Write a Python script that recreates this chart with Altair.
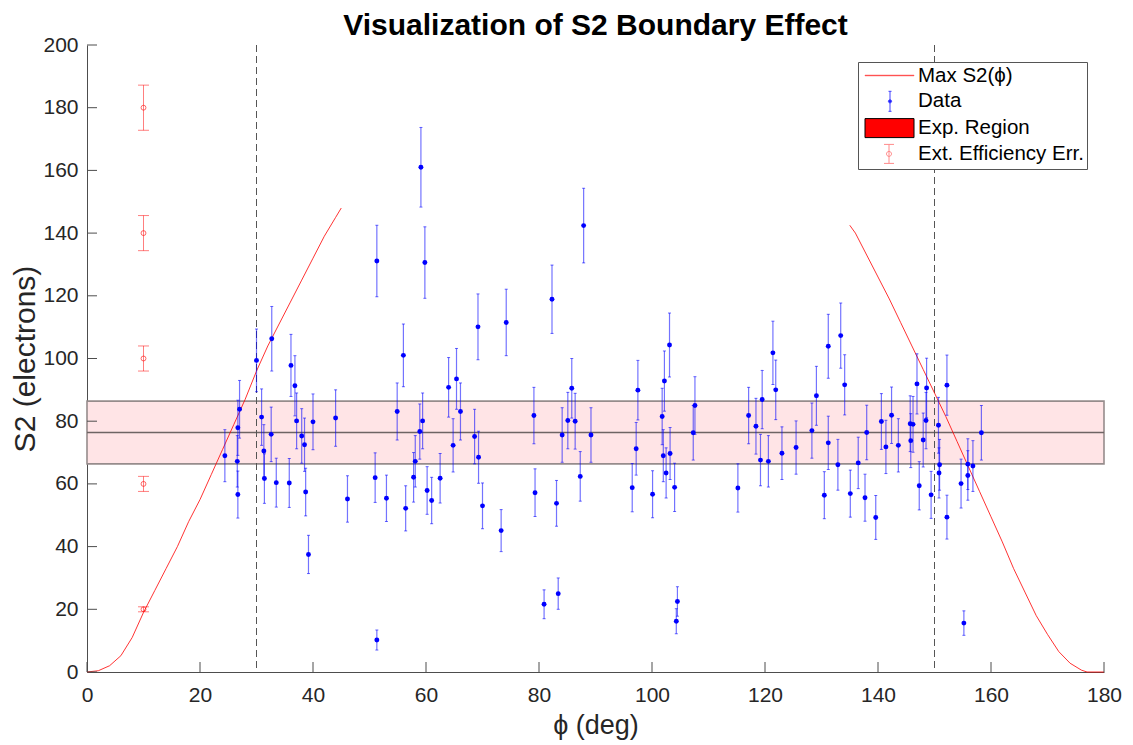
import altair as alt
import pandas as pd

# ---------------- data ----------------
PHI = [24.4, 26.6, 26.7, 26.7, 27.0, 30.0, 30.9, 31.3, 31.4, 32.6, 32.7, 33.5, 35.8, 36.1,
       36.8, 37.1, 38.0, 38.5, 38.7, 39.2, 40.0, 44.0, 46.1, 51.0, 51.3, 51.3, 53.0, 54.9,
       56.0, 56.4, 57.8, 58.1, 58.9, 59.1, 59.4, 59.8, 60.2, 61.0, 62.5, 64.0, 64.8, 65.4,
       66.1, 68.6, 69.2, 69.3, 70.0, 73.3, 74.2, 79.1, 79.3, 80.9, 82.3, 83.1, 83.4, 84.1,
       85.1, 85.8, 86.4, 87.3, 87.9, 89.2, 96.5, 97.2, 97.5, 100.1, 101.8, 102.0, 102.2,
       102.5, 103.1, 103.2, 104.0, 104.3, 104.5, 107.3, 107.6, 115.2, 117.1, 118.4, 119.2,
       119.5, 120.6, 121.4, 121.9, 123.0, 125.5, 128.3, 129.1, 130.5, 131.2, 131.2, 132.9,
       133.4, 134.1, 135.1, 136.5, 137.7, 138.0, 139.6, 140.6, 141.4, 142.4, 143.6, 145.7,
       145.8, 146.2, 146.9, 147.3, 148.0, 148.5, 148.6, 149.4, 150.7, 150.8, 150.9, 152.2,
       152.2, 154.7, 155.2, 155.9, 155.9, 156.8, 158.3]
S2 = [69.0, 67.2, 77.9, 56.6, 83.8, 99.4, 81.3, 70.5, 61.7, 75.8, 106.3, 60.4, 60.3, 97.8,
      91.3, 80.1, 75.3, 72.5, 57.4, 37.5, 79.8, 81.0, 55.2, 62.0, 10.2, 131.1, 55.4, 83.1,
      101.0, 52.2, 62.1, 67.2, 76.7, 161.0, 80.1, 130.6, 57.9, 54.7, 61.8, 90.8, 72.3, 93.5,
      83.1, 75.1, 110.1, 68.5, 53.0, 45.1, 111.5, 81.8, 57.2, 21.6, 118.9, 53.8, 25.0, 75.6,
      80.2, 90.5, 80.0, 62.4, 142.4, 75.6, 58.8, 71.2, 89.9, 56.7, 81.5, 69.0, 92.8,
      63.5, 104.3, 69.7, 58.9, 16.2, 22.5, 76.3, 85.0, 58.7, 81.8, 78.4, 67.6,
      86.9, 67.2, 101.8, 90.0, 69.8, 71.6, 77.0, 88.1, 56.4, 103.9, 73.1, 66.1,
      107.3, 91.6, 56.9, 66.7, 55.6, 76.4, 49.3, 79.9, 71.8, 81.9, 72.3, 79.2,
      73.8, 79.0, 91.9, 59.4, 74.0, 80.2, 90.6, 56.5, 78.7, 63.5, 66.1, 91.5,
      49.4, 60.1, 15.6, 66.3, 62.7, 65.7, 76.3]
S2_ERR = [8.3, 8.2, 8.8, 7.5, 9.2, 10.0, 9.0, 8.4, 7.9, 8.7, 10.3, 7.8, 7.8, 9.9,
          9.6, 8.9, 8.7, 8.5, 7.6, 6.1, 8.9, 9.0, 7.4, 7.9, 3.2, 11.4, 7.4, 9.1,
          10.0, 7.2, 7.9, 8.2, 8.8, 12.7, 8.9, 11.4, 7.6, 7.4, 7.9, 9.5, 8.5, 9.7,
          9.1, 8.7, 10.5, 8.3, 7.3, 6.7, 10.6, 9.0, 7.6, 4.6, 10.9, 7.3, 5.0, 8.7,
          9.0, 9.5, 8.9, 7.9, 11.9, 8.7, 7.7, 8.4, 9.5, 7.5, 9.0, 8.3, 9.6,
          8.0, 10.2, 8.3, 7.7, 4.0, 4.7, 8.7, 9.2, 7.7, 9.0, 8.9, 8.2,
          9.3, 8.2, 10.1, 9.5, 8.4, 8.5, 8.8, 9.4, 7.5, 10.2, 8.5, 8.1,
          10.4, 9.6, 7.5, 8.2, 7.5, 8.7, 7.0, 8.9, 8.5, 9.0, 8.5, 8.9,
          8.6, 8.9, 9.6, 7.7, 8.6, 9.0, 9.5, 7.5, 8.9, 8.0, 8.1, 9.6,
          7.0, 7.8, 3.9, 8.1, 7.9, 8.1, 8.7]

EFF_PHI = [10, 10, 10, 10, 10]
EFF_S2 = [20, 60, 100, 140, 180]
EFF_ERR = [0.8, 2.4, 4.0, 5.6, 7.2]

MAX_LEFT_PHI = [0, 2, 4, 6, 8, 10, 12, 14, 16, 18, 20, 22, 24, 26, 28, 30, 32, 34, 36, 38,
                40, 42, 44, 45]
MAX_LEFT_S2 = [0, 0.4, 2.0, 5.2, 11, 19, 26, 33, 40, 48, 55, 63, 71, 79, 87, 96, 104, 111,
               118, 125, 132, 139, 145, 148]
MAX_RIGHT_PHI = [135, 136, 138, 140, 142, 144, 146, 148, 150, 152, 154, 156, 158, 160, 162,
                 164, 166, 168, 170, 172, 174, 176, 177, 180]
MAX_RIGHT_S2 = [142.5, 140, 133, 126, 119, 111.5, 104, 96.5, 89, 81.5, 73.5, 65.5, 57.5,
                49.5, 41.5, 33, 25.5, 18, 12, 6.5, 2.8, 0.6, 0, 0]

BAND_LOW, BAND_MEAN, BAND_HIGH = 66.4, 76.4, 86.4
CUT_PHI = [30, 150]
X_TICKS = [0, 20, 40, 60, 80, 100, 120, 140, 160, 180]
Y_TICKS = [0, 20, 40, 60, 80, 100, 120, 140, 160, 180, 200]
LEGEND_ENTRIES = ["Max S2(ϕ)", "Data", "Exp. Region", "Ext. Efficiency Err."]
TITLE = "Visualization of S2 Boundary Effect"

# ---------------- styling ----------------
FONT = "Liberation Sans"
W, H = 1017, 627
AXIS_COLOR = "#4d4d4d"
TEXT_COLOR = "#262626"

xs = alt.Scale(domain=[0, 180], nice=False, zero=False)
ys = alt.Scale(domain=[0, 200], nice=False, zero=False)
xaxis = alt.Axis(title="ϕ (deg)", values=X_TICKS, ticks=False, tickSize=0, grid=False,
                 labelFlush=False, labelPadding=12, titlePadding=7, titleFontSize=27)
yaxis = alt.Axis(title="S2 (electrons)", values=Y_TICKS, ticks=False, tickSize=0, grid=False,
                 labelFlush=False, labelPadding=9, titlePadding=2, titleFontSize=30)


def X(field):
    return alt.X(field, type="quantitative", scale=xs, axis=xaxis)


def Y(field):
    return alt.Y(field, type="quantitative", scale=ys, axis=yaxis)


data = pd.DataFrame({"phi": PHI, "s2": S2, "err": S2_ERR})
eff = pd.DataFrame({"phi": EFF_PHI, "s2": EFF_S2, "err": EFF_ERR})
maxdf = pd.DataFrame({
    "phi": MAX_LEFT_PHI + MAX_RIGHT_PHI,
    "s2": MAX_LEFT_S2 + MAX_RIGHT_S2,
    "branch": ["left"] * len(MAX_LEFT_PHI) + ["right"] * len(MAX_RIGHT_PHI),
})
band = pd.DataFrame({"phi": [0], "phi2": [180], "s2": [BAND_LOW], "s2b": [BAND_HIGH],
                     "mean": [BAND_MEAN]})
cuts = pd.DataFrame({"phi": CUT_PHI})
xt = pd.DataFrame({"phi": X_TICKS})
yt = pd.DataFrame({"s2": Y_TICKS})
leg = pd.DataFrame({"entry": LEGEND_ENTRIES, "phi": [-60] * 4, "s2": [100] * 4})

band_layer = alt.Chart(band).mark_rect(fill="#ffe4e6", stroke="#968c8c", strokeWidth=1.6).encode(
    x=X("phi"), x2="phi2", y=Y("s2"), y2="s2b")
mean_layer = alt.Chart(band).mark_rule(color="#6e6464", strokeWidth=1.3).encode(
    x=X("phi"), x2="phi2", y=Y("mean"))
cut_layer = alt.Chart(cuts).mark_rule(color="#555555", strokeWidth=1, strokeDash=[7, 4]).encode(
    x=X("phi"))
max_layer = alt.Chart(maxdf).mark_line(color="#ff0000", strokeWidth=1, opacity=0.8).encode(
    x=X("phi"), y=Y("s2"), detail="branch:N")

base = alt.Chart(data).transform_calculate(lo="datum.s2 - datum.err", hi="datum.s2 + datum.err")
bars = base.mark_rule(color="#0000ff", strokeWidth=1.2, opacity=0.55).encode(
    x=X("phi"), y=Y("lo"), y2="hi")
cap_lo = base.mark_tick(color="#0000ff", orient="horizontal", size=3, thickness=1, opacity=0.6).encode(
    x=X("phi"), y=Y("lo"))
cap_hi = base.mark_tick(color="#0000ff", orient="horizontal", size=3, thickness=1, opacity=0.6).encode(
    x=X("phi"), y=Y("hi"))
dots = base.mark_circle(color="#0000ff", size=24, opacity=1).encode(x=X("phi"), y=Y("s2"))

ebase = alt.Chart(eff).transform_calculate(lo="datum.s2 - datum.err", hi="datum.s2 + datum.err")
ebars = ebase.mark_rule(color="#ff0000", strokeWidth=1, opacity=0.5).encode(
    x=X("phi"), y=Y("lo"), y2="hi")
ecap_lo = ebase.mark_tick(color="#ff0000", orient="horizontal", size=11, thickness=1, opacity=0.5).encode(
    x=X("phi"), y=Y("lo"))
ecap_hi = ebase.mark_tick(color="#ff0000", orient="horizontal", size=11, thickness=1, opacity=0.5).encode(
    x=X("phi"), y=Y("hi"))
edots = ebase.mark_point(color="#ff0000", filled=False, size=24, strokeWidth=1, opacity=0.6).encode(
    x=X("phi"), y=Y("s2"))

# inward ticks (MATLAB style)
xtick_layer = alt.Chart(xt).mark_rule(color=AXIS_COLOR, strokeWidth=1).encode(
    x=X("phi"), y=alt.value(H), y2=alt.value(H - 10))
ytick_layer = alt.Chart(yt).mark_rule(color=AXIS_COLOR, strokeWidth=1).encode(
    y=Y("s2"), x=alt.value(0), x2=alt.value(10))

# legend symbols (custom paths, unit = 10 px with symbolSize 400)
PATHS = [
    "M-0.65,-0.02H4.25V0.02H-0.65Z",
    "M1.85,-1V1M1.7,-1H2.0M1.7,1H2.0M2.01,0A0.16,0.16,0,1,1,1.69,0A0.16,0.16,0,1,1,2.01,0Z",
    "M-0.65,-0.95H4.25V0.95H-0.65Z",
    "M1.75,-0.95V0.95M1.25,-0.95H2.25M1.25,0.95H2.25M2.0,0A0.25,0.25,0,1,1,1.5,0A0.25,0.25,0,1,1,2.0,0Z",
]
FILLS = ["#ff3030", "#0000ff", "#ff0000", "transparent"]
STROKES = ["#ff5050", "#4040ff", "#000000", "#ff8a8a"]

leg_legend = alt.Legend(title=None, orient="top-right", offset=17, padding=3,
                        strokeColor="#555555", fillColor="#ffffff",
                        labelFont=FONT, labelFontSize=20.5, labelColor="#000000",
                        labelLimit=400, labelOffset=36, symbolSize=400,
                        symbolStrokeWidth=1, symbolOpacity=1, rowPadding=2.8)
legend_layer = alt.Chart(leg).mark_point(clip=True, filled=False, opacity=1, strokeWidth=1).encode(
    x=X("phi"), y=Y("s2"),
    shape=alt.Shape("entry:N", scale=alt.Scale(domain=LEGEND_ENTRIES, range=PATHS), legend=leg_legend),
    fill=alt.Fill("entry:N", scale=alt.Scale(domain=LEGEND_ENTRIES, range=FILLS), legend=leg_legend),
    stroke=alt.Stroke("entry:N", scale=alt.Scale(domain=LEGEND_ENTRIES, range=STROKES), legend=leg_legend),
)

chart = alt.layer(
    band_layer, mean_layer, cut_layer, max_layer,
    bars, cap_lo, cap_hi, dots,
    ebars, ecap_lo, ecap_hi, edots,
    xtick_layer, ytick_layer, legend_layer,
).properties(
    width=W, height=H,
    title=alt.TitleParams(TITLE, font=FONT, fontSize=30, fontWeight="bold", color="#000000",
                          anchor="middle", offset=0, dy=7),
    autosize=alt.AutoSizeParams(type="none"),
    padding={"left": 79, "top": 37, "right": 20, "bottom": 72},
).configure_axis(
    domainColor=AXIS_COLOR, domainWidth=1, labelFont=FONT, labelFontSize=21,
    labelColor=TEXT_COLOR, titleFont=FONT, titleFontWeight="normal",
    titleColor=TEXT_COLOR,
).configure_view(stroke=None)

chart.save("out.html", embed_options={"renderer": "svg", "actions": False})
